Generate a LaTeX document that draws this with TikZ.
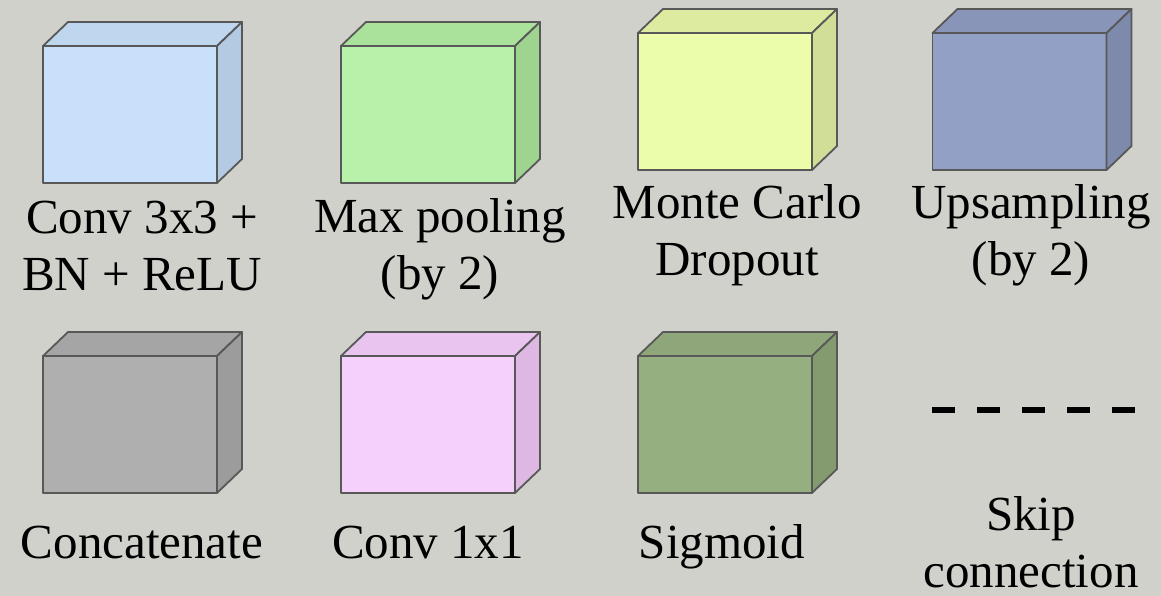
\documentclass[tikz,border=0pt]{standalone}
\usepackage{fontspec}
\setmainfont{Liberation Serif}
\newfontfamily\captionfont{Liberation Serif}
\usetikzlibrary{calc}

% face colours: front / top / side
\definecolor{bgcol}{RGB}{209,209,204}
\definecolor{edgecol}{RGB}{88,88,88}
\definecolor{convF}{RGB}{201,224,251}
\definecolor{convT}{RGB}{190,214,238}
\definecolor{convS}{RGB}{180,202,226}
\definecolor{poolF}{RGB}{183,241,170}
\definecolor{poolT}{RGB}{170,226,156}
\definecolor{poolS}{RGB}{158,212,144}
\definecolor{dropF}{RGB}{235,252,170}
\definecolor{dropT}{RGB}{221,235,160}
\definecolor{dropS}{RGB}{209,222,152}
\definecolor{upF}{RGB}{145,160,196}
\definecolor{upT}{RGB}{136,149,185}
\definecolor{upS}{RGB}{126,138,172}
\definecolor{catF}{RGB}{175,175,175}
\definecolor{catT}{RGB}{165,165,165}
\definecolor{catS}{RGB}{156,156,156}
\definecolor{oneF}{RGB}{246,208,252}
\definecolor{oneT}{RGB}{233,196,238}
\definecolor{oneS}{RGB}{222,184,226}
\definecolor{sigF}{RGB}{150,175,129}
\definecolor{sigT}{RGB}{142,166,121}
\definecolor{sigS}{RGB}{132,155,112}

\tikzset{
  face/.style={draw=edgecol, line width=1.8pt, line join=round,
    minimum width=174pt, minimum height=137pt, inner sep=0pt, outer sep=0pt},
  facet/.style={draw=edgecol, line width=1.8pt, line join=round},
  label/.style={font=\captionfont\fontsize{49}{57}\selectfont, align=center,
    inner sep=0pt, anchor=base},
  skipline/.style={line width=6.5pt, dash pattern=on 23pt off 22pt},
}

% \block{name}{centre}{front}{top}{side}
\newcommand{\block}[5]{%
  \node[face, fill=#3] (#1) at (#2) {};
  \filldraw[facet, fill=#4] (#1.north west) -- ++(25,-24) -- ++(174,0)
    -- (#1.north east) -- cycle;
  \filldraw[facet, fill=#5] (#1.north east) -- ++(25,-24) -- ++(0,137)
    -- (#1.south east) -- cycle;
}

\begin{document}
\begin{tikzpicture}[x=1pt, y=-1pt]
  \fill[bgcol] (0,0) rectangle (1161,596);
  \useasboundingbox (0,0) rectangle (1161,596);

  % first row
  \block{conv}{130,114.5}{convF}{convT}{convS}
  \block{pool}{428,114.5}{poolF}{poolT}{poolS}
  \block{drop}{725,101.5}{dropF}{dropT}{dropS}
  \block{up}{1019.5,101.5}{upF}{upT}{upS}

  % second row
  \block{cat}{130,424.5}{catF}{catT}{catS}
  \block{one}{428,424.5}{oneF}{oneT}{oneS}
  \block{sig}{725,424.5}{sigF}{sigT}{sigS}

  % skip connection sample line
  \coordinate (skipA) at (932,410);
  \coordinate (skipB) at (1135,410);
  \draw[skipline] (skipA) -- (skipB);

  % captions (base anchor sits on the last line)
  \node[label] (convL) at (142,290) {Conv 3x3 +\\BN + ReLU};
  \node[label] (poolL) at (440,289) {Max pooling\\(by 2)};
  \node[label] (dropL) at (737,275) {Monte Carlo\\Dropout};
  \node[label] (upL)   at (1031,275) {Upsampling\\(by 2)};
  \node[label] (catL)  at (142,558) {Concatenate};
  \node[label] (oneL)  at (428,558) {Conv 1x1};
  \node[label] (sigL)  at (722,558) {Sigmoid};
  \node[label] (skipL) at (1031,587) {Skip\\connection};
\end{tikzpicture}
\end{document}
